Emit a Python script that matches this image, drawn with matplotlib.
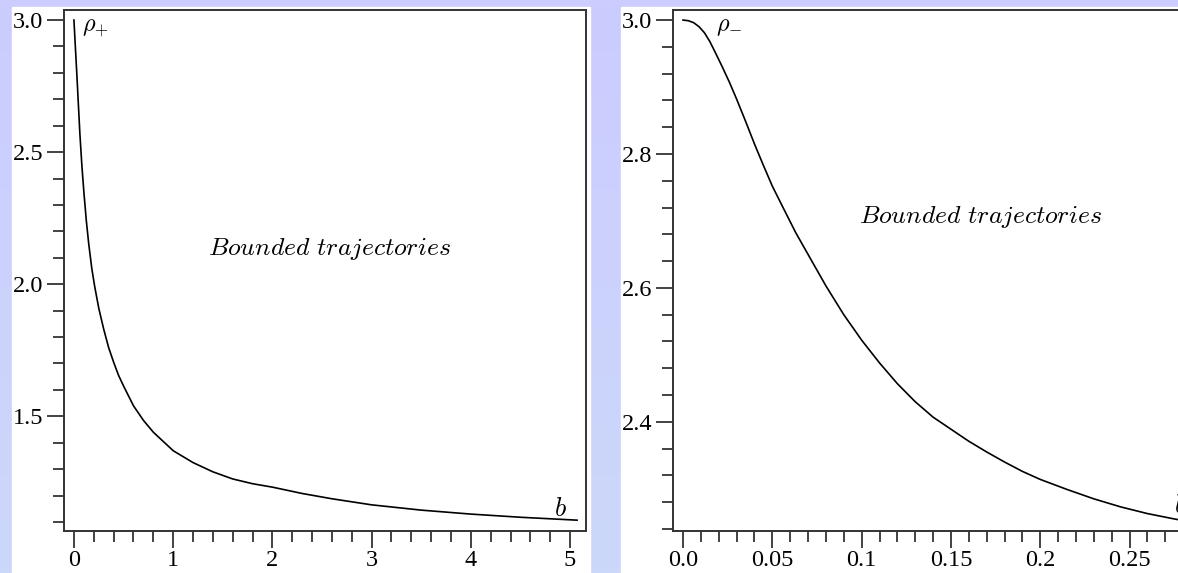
import numpy as np
import matplotlib
matplotlib.use("Agg")
import matplotlib.pyplot as plt
from matplotlib.ticker import MultipleLocator, FixedLocator
from matplotlib.patches import Rectangle
from matplotlib.colors import LinearSegmentedColormap

plt.rcParams["mathtext.fontset"] = "cm"
plt.rcParams["font.family"] = "Liberation Serif"

# left panel: rho_plus against b
b_plus = [0, 0.01, 0.02, 0.03, 0.045, 0.06, 0.08, 0.1, 0.125, 0.15, 0.18, 0.21,
          0.25, 0.3, 0.35, 0.4, 0.45, 0.5, 0.6, 0.7, 0.8, 0.9, 1.0, 1.2, 1.4,
          1.6, 1.8, 2.0, 2.3, 2.6, 3.0, 3.5, 4.0, 4.5, 5.07]
rho_plus = [3.0, 2.93, 2.86, 2.79, 2.68, 2.57, 2.45, 2.35, 2.24, 2.15, 2.06, 1.99,
            1.91, 1.83, 1.76, 1.705, 1.655, 1.615, 1.54, 1.485, 1.44, 1.405, 1.37,
            1.325, 1.29, 1.263, 1.245, 1.232, 1.208, 1.188, 1.165, 1.145, 1.13,
            1.118, 1.107]

# right panel: rho_minus against b
b_minus = [0, 0.003, 0.006, 0.009, 0.012, 0.015, 0.018, 0.022, 0.026, 0.03, 0.035,
           0.04, 0.045, 0.05, 0.056, 0.063, 0.07, 0.08, 0.09, 0.1, 0.11, 0.12,
           0.13, 0.14, 0.15, 0.16, 0.17, 0.18, 0.19, 0.2, 0.215, 0.23, 0.245,
           0.26, 0.275, 0.29]
rho_minus = [3.0, 2.999, 2.996, 2.99, 2.981, 2.968, 2.952, 2.93, 2.907, 2.882,
             2.849, 2.815, 2.783, 2.752, 2.72, 2.683, 2.65, 2.603, 2.56, 2.522,
             2.488, 2.457, 2.43, 2.407, 2.389, 2.371, 2.355, 2.34, 2.326, 2.314,
             2.299, 2.285, 2.273, 2.263, 2.255, 2.248]

left_xticks = [0, 1, 2, 3, 4, 5]
left_yticks = [1.5, 2.0, 2.5, 3.0]
right_xticks = [0.0, 0.05, 0.1, 0.15, 0.2, 0.25]
right_xlabels = ["0.0", "0.05", "0.1", "0.15", "0.2", "0.25"]
right_yticks = [2.4, 2.6, 2.8, 3.0]

W, H = 1178, 573
fig = plt.figure(figsize=(W / 100, H / 100), dpi=100)

# lavender page background with white panels
bg = fig.add_axes([0, 0, 1, 1], zorder=-10)
cmap = LinearSegmentedColormap.from_list("page", ["#ccccff", "#cbd8f9"])
bg.imshow(np.linspace(0, 1, 100).reshape(-1, 1), cmap=cmap, aspect="auto",
          extent=[0, 1, 0, 1])
bg.add_patch(Rectangle((12 / W, 0), 578 / W, (H - 7) / H, color="white"))
bg.add_patch(Rectangle((621 / W, 0), 600 / W, (H - 7) / H, color="white"))
bg.set_xlim(0, 1)
bg.set_ylim(0, 1)
bg.axis("off")


def style(ax):
    for s in ax.spines.values():
        s.set_color("#333333")
        s.set_linewidth(1.4)
    ax.set_facecolor("none")
    ax.tick_params(which="major", direction="out", length=12, width=1.2,
                   labelsize=17.5, pad=2, color="#222222")
    ax.tick_params(which="minor", direction="out", length=8, width=1.2,
                   color="#222222")
    ax.tick_params(axis="y", which="major", pad=3)


ax1 = fig.add_axes([64 / W, (H - 531) / H, 522 / W, 521 / H])
ax1.plot(b_plus, rho_plus, color="black", lw=1.2)
ax1.set_xlim(-0.1, 5.16)
ax1.set_ylim(1.066, 3.038)
ax1.xaxis.set_major_locator(FixedLocator(left_xticks))
ax1.set_xticklabels([str(t) for t in left_xticks])
ax1.xaxis.set_minor_locator(MultipleLocator(0.2))
ax1.yaxis.set_major_locator(FixedLocator(left_yticks))
ax1.set_yticklabels(["%.1f" % t for t in left_yticks])
ax1.yaxis.set_minor_locator(MultipleLocator(0.1))
style(ax1)
ax1.text(0.08, 3.01, r"$\rho_{+}$", fontsize=17.5, ha="left", va="top")
ax1.text(4.84, 1.123, r"$b$", fontsize=19, ha="left", va="baseline")
ax1.text(2.58, 2.135, r"$Bounded\ trajectories$", fontsize=18.5, ha="center",
         va="center")

ax2 = fig.add_axes([673 / W, (H - 531) / H, 537 / W, 521 / H])
ax2.plot(b_minus, rho_minus, color="black", lw=1.2)
ax2.set_xlim(-0.0056, 0.295)
ax2.set_ylim(2.237, 3.015)
ax2.xaxis.set_major_locator(FixedLocator(right_xticks))
ax2.set_xticklabels(right_xlabels)
ax2.xaxis.set_minor_locator(MultipleLocator(0.01))
ax2.yaxis.set_major_locator(FixedLocator(right_yticks))
ax2.set_yticklabels(["%.1f" % t for t in right_yticks])
ax2.yaxis.set_minor_locator(MultipleLocator(0.04))
style(ax2)
ax2.text(0.0185, 3.005, r"$\rho_{-}$", fontsize=17.5, ha="left", va="top")
ax2.text(0.275, 2.264, r"$b$", fontsize=19, ha="left", va="baseline")
ax2.text(0.1667, 2.706, r"$Bounded\ trajectories$", fontsize=18.5, ha="center",
         va="center")

fig.savefig("out.png", dpi=100)
